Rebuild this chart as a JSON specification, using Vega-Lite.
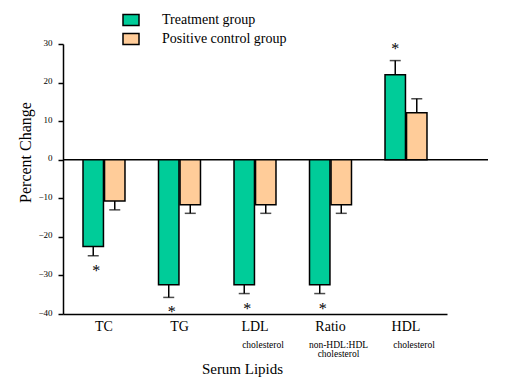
{
  "$schema": "https://vega.github.io/schema/vega-lite/v6.json",
  "width": 425,
  "height": 270,
  "autosize": {"type": "none"},
  "padding": {"left": 63, "top": 44, "right": 17, "bottom": 65},
  "background": "white",
  "config": {
    "view": {"stroke": null},
    "font": "Liberation Serif",
    "axis": {"grid": false, "domainColor": "black", "tickColor": "black", "labelColor": "black", "titleColor": "black", "labelFont": "Liberation Serif", "titleFont": "Liberation Serif", "titleFontWeight": "normal", "domainWidth": 1.5},
    "axisY": {"tickCount": 8, "tickSize": 5, "tickWidth": 1.5, "labelFontSize": 9, "labelPadding": 6, "labelOffset": -2, "titleFontSize": 16, "titleX": -38, "titleY": 108, "titleAngle": -90, "titleBaseline": "middle"},
    "axisX": {"labelAngle": 0, "ticks": false, "labelPadding": 5, "labelFontSize": 14, "titleFontSize": 15, "titleX": 179, "titleY": 54, "titleBaseline": "middle"}
  },
  "datasets": {
    "bars": [
      {"group": "TC", "series": "Treatment  group", "value": -22.5, "errEnd": -24.9, "star": "*"},
      {"group": "TC", "series": "Positive control group", "value": -10.7, "errEnd": -13.0, "star": ""},
      {"group": "TG", "series": "Treatment  group", "value": -32.4, "errEnd": -35.7, "star": "*"},
      {"group": "TG", "series": "Positive control group", "value": -11.7, "errEnd": -13.9, "star": ""},
      {"group": "LDL", "series": "Treatment  group", "value": -32.4, "errEnd": -34.7, "star": "*"},
      {"group": "LDL", "series": "Positive control group", "value": -11.7, "errEnd": -13.9, "star": ""},
      {"group": "Ratio", "series": "Treatment  group", "value": -32.4, "errEnd": -34.7, "star": "*"},
      {"group": "Ratio", "series": "Positive control group", "value": -11.7, "errEnd": -13.9, "star": ""},
      {"group": "HDL", "series": "Treatment  group", "value": 22.0, "errEnd": 25.7, "star": "*"},
      {"group": "HDL", "series": "Positive control group", "value": 12.2, "errEnd": 15.8, "star": ""}
    ],
    "subs": [
      {"group": "LDL", "sub": ["cholesterol"]},
      {"group": "Ratio", "sub": ["non-HDL:HDL", "cholesterol"]},
      {"group": "HDL", "sub": ["cholesterol"]}
    ]
  },
  "layer": [
    {
      "data": {"values": [{}]},
      "mark": {"type": "rule", "color": "black", "strokeWidth": 1.5},
      "encoding": {"y": {"datum": 0, "type": "quantitative"}}
    },
    {
      "data": {"name": "bars"},
      "mark": {"type": "bar", "stroke": "black", "strokeWidth": 1.5},
      "encoding": {
        "x": {
          "field": "group", "type": "nominal",
          "scale": {"domain": ["TC", "TG", "LDL", "Ratio", "HDL"], "range": [0, 384], "paddingInner": 0.444, "paddingOuter": 0.265},
          "axis": {"title": "Serum Lipids"}
        },
        "y": {
          "field": "value", "type": "quantitative",
          "scale": {"domain": [-40, 30], "nice": false, "zero": false},
          "axis": {"title": "Percent Change"}
        },
        "xOffset": {"field": "series", "type": "nominal", "scale": {"domain": ["Treatment  group", "Positive control group"], "paddingInner": 0.05}},
        "fill": {
          "field": "series", "type": "nominal",
          "scale": {"domain": ["Treatment  group", "Positive control group"], "range": ["#00CC99", "#FFCC99"]},
          "legend": {"title": null, "orient": "none", "legendX": 59, "legendY": -33, "symbolType": "M-1,-0.69H1V0.69H-1Z", "symbolSize": 256, "symbolStrokeColor": "black", "symbolStrokeWidth": 1.5, "symbolOpacity": 1, "labelFont": "Liberation Serif", "labelFontSize": 14, "labelColor": "black", "labelOffset": 22, "rowPadding": 1}
        }
      }
    },
    {
      "data": {"name": "bars"},
      "mark": {"type": "rule", "color": "black", "strokeWidth": 1.5},
      "encoding": {
        "x": {"field": "group", "type": "nominal"},
        "xOffset": {"field": "series", "type": "nominal"},
        "y": {"field": "value", "type": "quantitative"},
        "y2": {"field": "errEnd"}
      }
    },
    {
      "data": {"name": "bars"},
      "mark": {"type": "tick", "color": "black", "size": 11, "thickness": 1.5},
      "encoding": {
        "x": {"field": "group", "type": "nominal"},
        "xOffset": {"field": "series", "type": "nominal"},
        "y": {"field": "errEnd", "type": "quantitative"}
      }
    },
    {
      "data": {"name": "bars"},
      "transform": [{"filter": "datum.star != '' && datum.value < 0"}],
      "mark": {"type": "text", "fontSize": 16, "dy": 15, "dx": 3, "baseline": "middle", "color": "black"},
      "encoding": {
        "x": {"field": "group", "type": "nominal"},
        "xOffset": {"field": "series", "type": "nominal"},
        "y": {"field": "errEnd", "type": "quantitative"},
        "text": {"field": "star"}
      }
    },
    {
      "data": {"name": "bars"},
      "transform": [{"filter": "datum.star != '' && datum.value > 0"}],
      "mark": {"type": "text", "fontSize": 16, "dy": -12, "baseline": "middle", "color": "black"},
      "encoding": {
        "x": {"field": "group", "type": "nominal"},
        "xOffset": {"field": "series", "type": "nominal"},
        "y": {"field": "errEnd", "type": "quantitative"},
        "text": {"field": "star"}
      }
    },
    {
      "data": {"name": "subs"},
      "mark": {"type": "text", "fontSize": 9.5, "dy": 26, "dx": 8, "baseline": "top", "lineHeight": 9, "color": "black"},
      "encoding": {
        "x": {"field": "group", "type": "nominal"},
        "y": {"datum": -40, "type": "quantitative"},
        "text": {"field": "sub"}
      }
    }
  ]
}
